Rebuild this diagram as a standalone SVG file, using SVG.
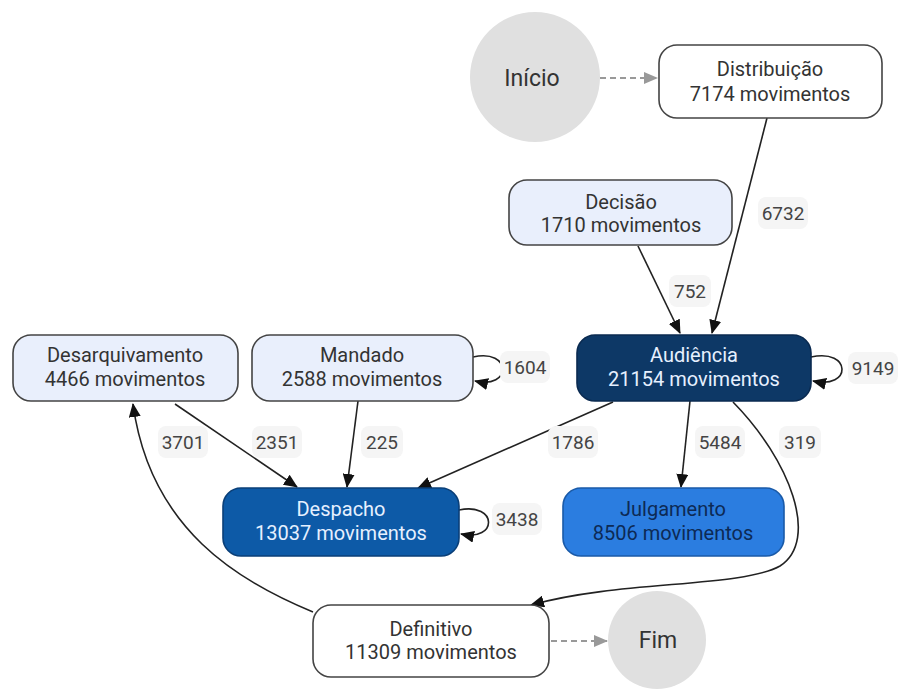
<svg xmlns="http://www.w3.org/2000/svg" width="899" height="690" viewBox="0 0 899 690">
<defs>
<marker id="ah" markerWidth="14" markerHeight="12" refX="13" refY="6" orient="auto" markerUnits="userSpaceOnUse"><path d="M0,0 L14,6 L0,12 Z" fill="#111"/></marker>
<marker id="ahg" markerWidth="14" markerHeight="12" refX="13" refY="6" orient="auto" markerUnits="userSpaceOnUse"><path d="M0,0 L14,6 L0,12 Z" fill="#999"/></marker>
<style>
text{font-family:Roboto,"Liberation Sans",sans-serif;text-anchor:middle}
.n{font-size:20px}
.lbl{font-size:19px;fill:#444}
.lb{fill:#f5f5f5}
.e{fill:none;stroke:#222;stroke-width:1.6;marker-end:url(#ah)}
.d{fill:none;stroke:#999;stroke-width:2;stroke-dasharray:6,4;marker-end:url(#ahg)}
.w{fill:#fff;stroke:#444;stroke-width:1.6}
.lt{fill:#e9effc;stroke:#444;stroke-width:1.6}
</style>
</defs>
<rect width="899" height="690" fill="#fff"/>
<g id="connectors">
<path class="d" d="M600,78 L657,78"/>
<path class="d" d="M551,641 L607,641"/>
<path class="e" d="M767,118 L712,333"/>
<path class="e" d="M638,246 L680,333"/>
<path class="e" d="M811,357 C852,348 852,390 813,381"/>
<path class="e" d="M473,357 C512,348 512,390 475,381"/>
<path class="e" d="M459,510 C498,502 498,542 461,534"/>
<path class="e" d="M175,404 L297,487"/>
<path class="e" d="M358,401 L347,487"/>
<path class="e" d="M613,402 L418,488"/>
<path class="e" d="M690,401 L681,487"/>
<path class="e" d="M733,402 C790,460 820,540 780,566 C740,588 620,580 531,605"/>
<path class="e" d="M313,612 C240,582 150,530 133,404"/>
</g>
<g id="edge-labels">
<rect class="lb" x="758" y="197" width="50" height="32" rx="8"/><text class="lbl" x="783" y="220">6732</text>
<rect class="lb" x="669" y="275" width="42" height="32" rx="8"/><text class="lbl" x="690" y="298">752</text>
<rect class="lb" x="848" y="352" width="50" height="32" rx="8"/><text class="lbl" x="873" y="375">9149</text>
<rect class="lb" x="500" y="351" width="50" height="32" rx="8"/><text class="lbl" x="525" y="374">1604</text>
<rect class="lb" x="158" y="426" width="50" height="32" rx="8"/><text class="lbl" x="183" y="449">3701</text>
<rect class="lb" x="252" y="426" width="50" height="32" rx="8"/><text class="lbl" x="277" y="449">2351</text>
<rect class="lb" x="361" y="426" width="42" height="32" rx="8"/><text class="lbl" x="382" y="449">225</text>
<rect class="lb" x="548" y="426" width="50" height="32" rx="8"/><text class="lbl" x="573" y="449">1786</text>
<rect class="lb" x="695" y="426" width="50" height="32" rx="8"/><text class="lbl" x="720" y="449">5484</text>
<rect class="lb" x="779" y="426" width="42" height="32" rx="8"/><text class="lbl" x="800" y="449">319</text>
<rect class="lb" x="492" y="503" width="50" height="32" rx="8"/><text class="lbl" x="517" y="526">3438</text>
</g>
<g id="inicio">
<circle cx="535" cy="77" r="65" fill="#e0e0e0"/>
<text x="532" y="86" font-size="23" fill="#333">Início</text>
</g>
<g id="distribuicao">
<rect class="w" x="659" y="45" width="223" height="73" rx="18"/>
<text class="n" x="770" y="76" fill="#333">Distribuição</text>
<text class="n" x="770" y="101" fill="#333">7174 movimentos</text>
</g>
<g id="decisao">
<rect class="lt" x="509" y="180" width="223" height="65" rx="18"/>
<text class="n" x="621" y="209" fill="#333">Decisão</text>
<text class="n" x="621" y="232" fill="#333">1710 movimentos</text>
</g>
<g id="audiencia">
<rect x="577" y="335" width="234" height="66" rx="18" fill="#0d3866" stroke="#0a2a50" stroke-width="1.6"/>
<text class="n" x="694" y="362" fill="#e6f0ff">Audiência</text>
<text class="n" x="694" y="386" fill="#e6f0ff">21154 movimentos</text>
</g>
<g id="desarquivamento">
<rect class="lt" x="13" y="335" width="225" height="66" rx="18"/>
<text class="n" x="125" y="362" fill="#333">Desarquivamento</text>
<text class="n" x="125" y="386" fill="#333">4466 movimentos</text>
</g>
<g id="mandado">
<rect class="lt" x="252" y="335" width="221" height="66" rx="18"/>
<text class="n" x="362" y="362" fill="#333">Mandado</text>
<text class="n" x="362" y="386" fill="#333">2588 movimentos</text>
</g>
<g id="despacho">
<rect x="223" y="488" width="236" height="68" rx="18" fill="#0d5aa7" stroke="#0a3f78" stroke-width="1.6"/>
<text class="n" x="341" y="516" fill="#e6f0ff">Despacho</text>
<text class="n" x="341" y="540" fill="#e6f0ff">13037 movimentos</text>
</g>
<g id="julgamento">
<rect x="563" y="488" width="221" height="68" rx="18" fill="#2b7de0" stroke="#1a5aa8" stroke-width="1.6"/>
<text class="n" x="673" y="516" fill="#0d2a55">Julgamento</text>
<text class="n" x="673" y="540" fill="#0d2a55">8506 movimentos</text>
</g>
<g id="definitivo">
<rect class="w" x="313" y="605" width="236" height="72" rx="18"/>
<text class="n" x="431" y="636" fill="#333">Definitivo</text>
<text class="n" x="431" y="659" fill="#333">11309 movimentos</text>
</g>
<g id="fim">
<circle cx="657" cy="640" r="49" fill="#e0e0e0"/>
<text x="658" y="648" font-size="23" fill="#333">Fim</text>
</g>
</svg>
